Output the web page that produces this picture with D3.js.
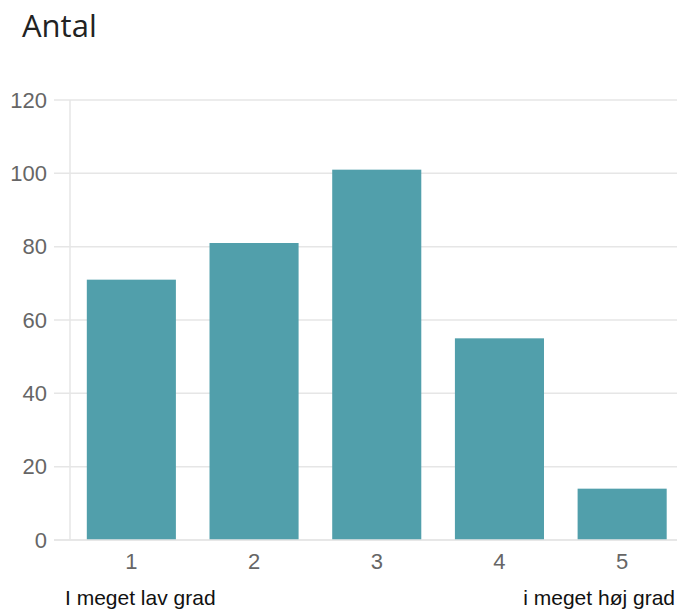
<!DOCTYPE html>
<html><head><meta charset="utf-8">
<script src="https://cdn.jsdelivr.net/npm/d3@7"></script>
<style>body{margin:0;background:#fff}svg{display:block}</style>
</head><body>
<script>
const categories = ["1","2","3","4","5"];
const values = [71, 81, 101, 55, 14];
const yTicks = [0, 20, 40, 60, 80, 100, 120];
const title = "Antal";
const lowLabel = "I meget lav grad";
const highLabel = "i meget høj grad";

const W = 677, H = 611;
const svg = d3.select("body").append("svg").attr("width", W).attr("height", H);

const y = d3.scaleLinear().domain([0, 120]).range([540, 100]);
const x = d3.scaleBand().domain(categories).range([70, 683.5]).paddingInner(0.274).paddingOuter(0.137);

svg.append("text").attr("x", 22).attr("y", 37).text(title)
  .attr("font-family", "'Open Sans', sans-serif").attr("font-size", 31).attr("fill", "#222");

// gridlines
svg.append("g").selectAll("line").data(yTicks).join("line")
  .attr("x1", 54).attr("x2", W).attr("y1", d => y(d)).attr("y2", d => y(d))
  .attr("stroke", "#e6e6e6").attr("stroke-width", 1.5);

// vertical axis line
svg.append("line").attr("x1", 70).attr("x2", 70).attr("y1", y(120)).attr("y2", y(0))
  .attr("stroke", "#e6e6e6").attr("stroke-width", 1.5);

// y tick labels
svg.append("g").selectAll("text").data(yTicks).join("text")
  .attr("x", 47).attr("y", d => y(d)).attr("dy", "0.35em").attr("text-anchor", "end")
  .attr("font-family", "'Liberation Sans', Arial, sans-serif").attr("font-size", 22).attr("fill", "#666")
  .text(d => d);

// bars
svg.append("g").selectAll("rect").data(values).join("rect")
  .attr("x", (d, i) => x(categories[i])).attr("width", x.bandwidth())
  .attr("y", d => y(d)).attr("height", d => y(0) - y(d))
  .attr("fill", "#519fab");

// redraw baseline over bars
svg.append("line").attr("x1", 54).attr("x2", W).attr("y1", y(0)).attr("y2", y(0))
  .attr("stroke", "#e6e6e6").attr("stroke-width", 1.5);

// x tick labels
svg.append("g").selectAll("text").data(categories).join("text")
  .attr("x", d => x(d) + x.bandwidth() / 2).attr("y", 569).attr("text-anchor", "middle")
  .attr("font-family", "'Liberation Sans', Arial, sans-serif").attr("font-size", 22).attr("fill", "#666")
  .text(d => d);

svg.append("text").attr("x", 65).attr("y", 605).text(lowLabel)
  .attr("font-family", "'Liberation Sans', Arial, sans-serif").attr("font-size", 21).attr("fill", "#111");
svg.append("text").attr("x", 675).attr("y", 605).attr("text-anchor", "end").text(highLabel)
  .attr("font-family", "'Liberation Sans', Arial, sans-serif").attr("font-size", 21).attr("fill", "#111");
</script>
</body></html>
